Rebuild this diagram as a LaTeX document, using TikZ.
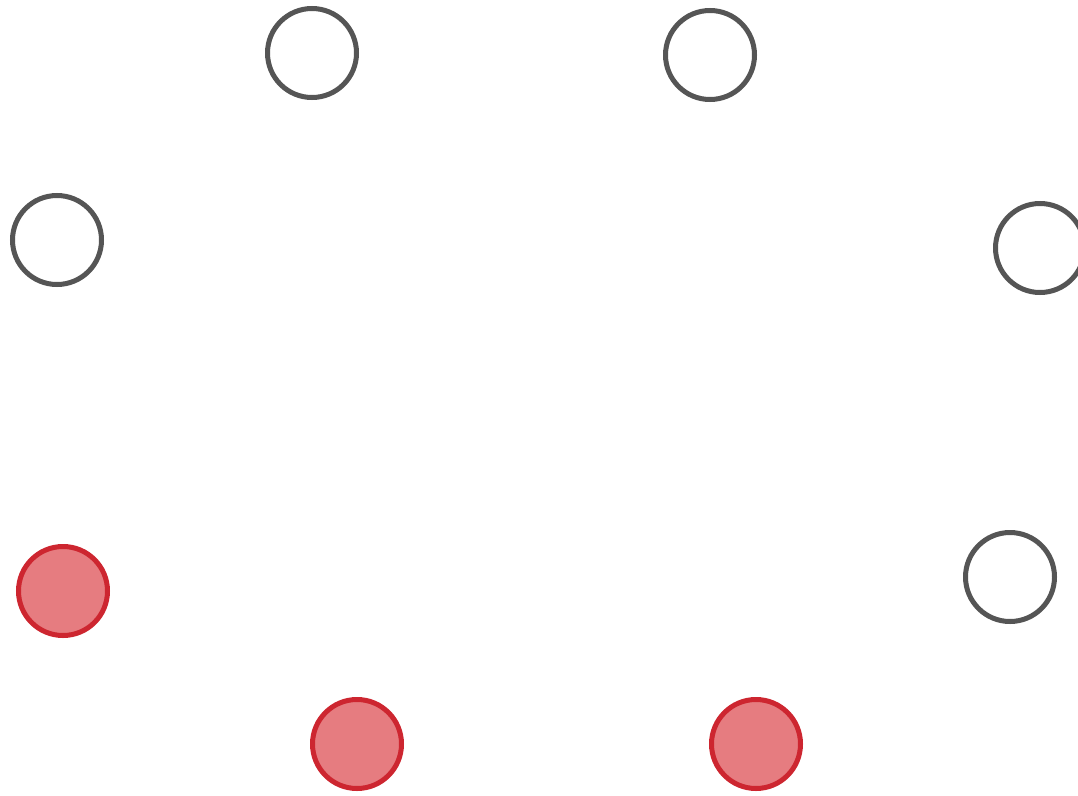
\documentclass[tikz,border=0pt]{standalone}
\definecolor{ringgray}{HTML}{555555}
\definecolor{redline}{HTML}{CD2630}
\definecolor{redfill}{HTML}{E67C80}
\begin{document}
\begin{tikzpicture}[x=1pt,y=-1pt,
  spot/.style={circle, inner sep=0pt, minimum size=89pt, line width=5pt},
  plain/.style={spot, draw=ringgray, fill=white},
  marked/.style={spot, draw=redline, fill=redfill}]
\clip (0,0) rectangle (1078,795);
\useasboundingbox (0,0) rectangle (1078,795);
\node[plain] (n1) at (312,53) {};
\node[plain] (n2) at (710,55) {};
\node[plain] (n3) at (57,240) {};
\node[plain] (n4) at (1040,248) {};
\node[marked] (n5) at (63,591) {};
\node[plain] (n6) at (1010,577) {};
\node[marked] (n7) at (357,744) {};
\node[marked] (n8) at (756,744) {};
\end{tikzpicture}
\end{document}
